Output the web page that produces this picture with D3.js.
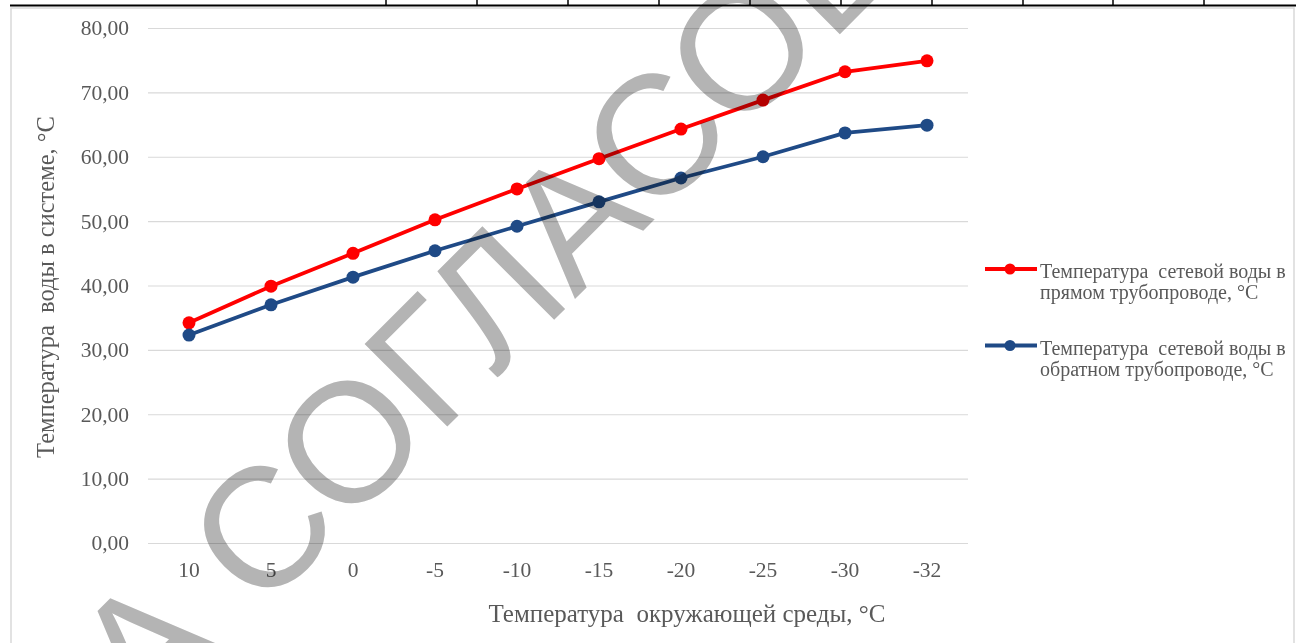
<!DOCTYPE html>
<html>
<head>
<meta charset="utf-8">
<script src="https://cdn.jsdelivr.net/npm/d3@7/dist/d3.min.js"></script>
<style>
  html, body { margin: 0; padding: 0; background: #fff; }
  svg { display: block; }
  text { white-space: pre; }
</style>
</head>
<body>
<svg id="chart" width="1296" height="643"></svg>
<script>
// ---- data ----
const categories = ["10", "5", "0", "-5", "-10", "-15", "-20", "-25", "-30", "-32"];
const supplyTemp = [34.2, 39.9, 45.0, 50.2, 55.0, 59.7, 64.3, 68.8, 73.2, 74.9];
const returnTemp = [32.3, 37.0, 41.3, 45.4, 49.2, 53.0, 56.7, 60.0, 63.7, 64.9];
const yTicks = [0, 10, 20, 30, 40, 50, 60, 70, 80];
const seriesNames = [
  ["Температура  сетевой воды в", "прямом трубопроводе, °С"],
  ["Температура  сетевой воды в", "обратном трубопроводе, °С"]
];
const seriesColors = ["#ff0000", "#1f4a86"];
const yTitle = "Температура  воды в системе, °С";
const xTitle = "Температура  окружающей среды, °С";
const watermarkText = "НА СОГЛАСОВАНИЕ";
const tableCellEdges = [386, 477, 568, 659, 750, 841, 932, 1023, 1113, 1204];

const svg = d3.select("#chart");
const W = 1296, H = 643;
const plot = { left: 148, right: 968, top: 28, bottom: 543 };
const serif = "'Liberation Serif', 'Times New Roman', serif";

// chart frame
svg.append("rect").attr("x", 11).attr("y", 8).attr("width", 1283).attr("height", 650)
  .attr("fill", "#fff").attr("stroke", "#d9d9d9").attr("stroke-width", 1.5);

// table line at top
svg.append("line").attr("x1", 10).attr("x2", W).attr("y1", 5.5).attr("y2", 5.5)
  .attr("stroke", "#000").attr("stroke-width", 2);
svg.selectAll("line.cell").data(tableCellEdges).enter().append("line")
  .attr("class", "cell")
  .attr("x1", d => d).attr("x2", d => d).attr("y1", 0).attr("y2", 6)
  .attr("stroke", "#000").attr("stroke-width", 1.5);

const x = d3.scaleBand().domain(categories).range([plot.left, plot.right]);
const y = d3.scaleLinear().domain([0, 80]).range([plot.bottom, plot.top]);

const fmt = v => d3.format(".2f")(v).replace(".", ",");

// y axis (gridlines + labels)
const yAxis = d3.axisLeft(y).tickValues(yTicks).tickFormat(fmt)
  .tickSize(-(plot.right - plot.left)).tickPadding(19);
const gy = svg.append("g").attr("transform", `translate(${plot.left},0)`).call(yAxis);
gy.select(".domain").remove();
gy.selectAll(".tick line").attr("stroke", "#d9d9d9").attr("stroke-width", 1.2);
gy.selectAll(".tick text").attr("fill", "#595959")
  .style("font-family", serif).style("font-size", "21.5px");

// x axis labels
const xAxis = d3.axisBottom(x).tickSize(0).tickPadding(0);
const gx = svg.append("g").attr("transform", `translate(0,${plot.bottom})`).call(xAxis);
gx.select(".domain").remove();
gx.selectAll(".tick text").attr("fill", "#595959").attr("dy", null).attr("y", 34)
  .style("font-family", serif).style("font-size", "21.5px");

// axis titles
svg.append("text").attr("transform", `translate(54,287) rotate(-90)`)
  .attr("text-anchor", "middle").attr("fill", "#595959")
  .style("font-family", serif).style("font-size", "24.5px")
  .text(yTitle);
svg.append("text").attr("x", 687).attr("y", 622)
  .attr("text-anchor", "middle").attr("fill", "#595959")
  .style("font-family", serif).style("font-size", "25px")
  .text(xTitle);

// series
const series = [supplyTemp, returnTemp];
const line = d3.line()
  .x((d, i) => x(categories[i]) + x.bandwidth() / 2)
  .y(d => y(d));
series.forEach((vals, si) => {
  svg.append("path").datum(vals).attr("d", line)
    .attr("fill", "none").attr("stroke", seriesColors[si]).attr("stroke-width", 3.8)
    .attr("stroke-linejoin", "round");
  svg.selectAll(null).data(vals).enter().append("circle")
    .attr("cx", (d, i) => x(categories[i]) + x.bandwidth() / 2)
    .attr("cy", d => y(d)).attr("r", 6.5).attr("fill", seriesColors[si]);
});

// legend
const legendY = [269, 345.5];
seriesNames.forEach((lines, si) => {
  const g = svg.append("g").attr("transform", `translate(0,${legendY[si]})`);
  g.append("line").attr("x1", 985).attr("x2", 1037).attr("y1", 0).attr("y2", 0)
    .attr("stroke", seriesColors[si]).attr("stroke-width", 3.8);
  g.append("circle").attr("cx", 1010).attr("cy", 0).attr("r", 5.5).attr("fill", seriesColors[si]);
  lines.forEach((t, li) => {
    g.append("text").attr("x", 1040).attr("y", 9 + li * 21)
      .attr("fill", "#595959")
      .style("font-family", serif).style("font-size", "20px")
      .text(t);
  });
});

// watermark
const fs = 170, ang = -45;
const wm = svg.append("text")
  .attr("fill", "#b4b4b4")
  .style("mix-blend-mode", "multiply")
  .style("font-family", "'Liberation Sans', Arial, sans-serif")
  .style("font-size", fs + "px")
  .text(watermarkText);
// place so that the first "С" (index 3) is centred at target
const node = wm.node();
const idx = 3;
const pre = node.getSubStringLength(0, idx);
const cw = node.getSubStringLength(idx, 1);
const along = pre + cw / 2;
const up = 0.716 * fs / 2;
const a = ang * Math.PI / 180;
const ux = Math.cos(a), uy = Math.sin(a);
const vx = Math.sin(a), vy = -Math.cos(a);
const target = [259, 529];
const sx = target[0] - along * ux - up * vx;
const sy = target[1] - along * uy - up * vy;
wm.attr("transform", `translate(${sx},${sy}) rotate(${ang})`);
</script>
</body>
</html>
